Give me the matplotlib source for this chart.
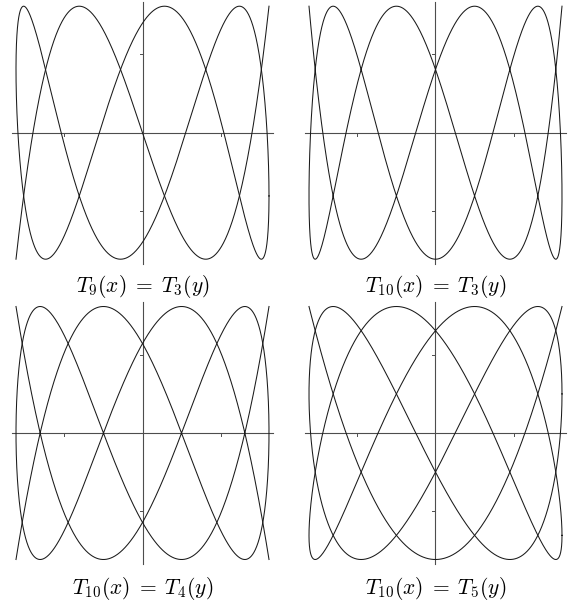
import numpy as np
import matplotlib
matplotlib.use("Agg")
import matplotlib.pyplot as plt
from math import gcd

plt.rcParams['mathtext.fontset'] = 'cm'

# degrees (n, m) of T_n(x) = T_m(y), one per panel
N_deg = [9, 10, 10, 10]
M_deg = [3, 3, 4, 5]
Labels = [r"$T_9(x)\;=\;T_3(y)$", r"$T_{10}(x)\;=\;T_3(y)$",
          r"$T_{10}(x)\;=\;T_4(y)$", r"$T_{10}(x)\;=\;T_5(y)$"]
Tick_pos = [-0.62, 0.62]

W, H = 568, 604
fig = plt.figure(figsize=(W / 100, H / 100), dpi=100)

centers = [(142.5, 132.7), (435.5, 132.7), (142.5, 433.0), (435.5, 433.0)]
half = 126.5
lim = 1.05
label_y = [287, 287, 588, 588]

for i in range(4):
    n, m = N_deg[i], M_deg[i]
    cx, cy = centers[i]
    size = 2 * lim * half
    ax = fig.add_axes([(cx - size / 2) / W, (H - cy - size / 2) / H, size / W, size / H])
    ax.set_xlim(-lim, lim)
    ax.set_ylim(-lim, lim)
    ax.axis('off')

    # axes through origin
    ax.plot([-1.035, 1.035], [0, 0], c='#4d4d4d', lw=0.8, zorder=1)
    ax.plot([0, 0], [-1.035, 1.035], c='#4d4d4d', lw=0.8, zorder=1)
    tl = 3.0 / half
    for t in Tick_pos:
        ax.plot([t, t], [0, -tl], c='#4d4d4d', lw=0.7)
        ax.plot([0, -tl], [t, t], c='#4d4d4d', lw=0.7)

    # components of the Chebyshev curve: x = cos(m1 s), y = cos(n1 s - 2 pi k / m)
    g = gcd(n, m)
    n1, m1 = n // g, m // g
    for k in range(g // 2 + 1):
        ph = 2 * np.pi * k / m
        if k == 0 or 2 * k == g:
            # open arc, traced back and forth: start at an end point (both angles multiple of pi)
            s0 = 0.0
            for j in range(4 * m1 * n1):
                c = j * np.pi / (2 * m1 * n1)
                if abs(np.sin(m1 * c)) < 1e-9 and abs(np.sin(n1 * c - ph)) < 1e-9:
                    s0 = c
                    break
            s = np.linspace(s0, s0 + np.pi, 3000)
        else:
            s = np.linspace(0, 2 * np.pi, 6000)
        ax.plot(np.cos(m1 * s), np.cos(n1 * s - ph), c='#1a1a1a', lw=0.75, zorder=2)

    fig.text(cx / W, 1 - label_y[i] / H, Labels[i], ha='center', va='center', fontsize=15.5)

fig.savefig("out.png", dpi=100)
